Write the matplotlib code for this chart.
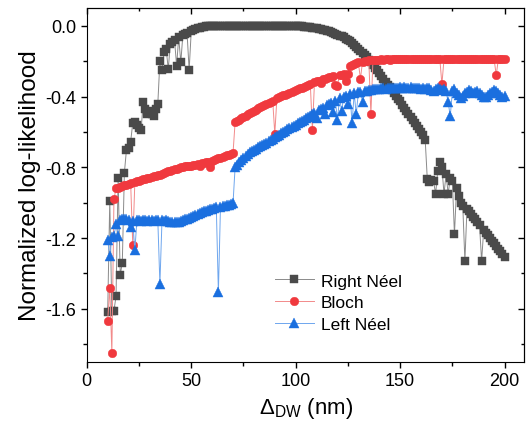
import numpy as np
import matplotlib
matplotlib.use('Agg')
import matplotlib.pyplot as plt
from matplotlib.ticker import MultipleLocator, FormatStrFormatter

plt.rcParams['font.family'] = ['Liberation Sans', 'DejaVu Sans']
plt.rcParams['mathtext.fontset'] = 'custom'
plt.rcParams['mathtext.rm'] = 'Liberation Sans'
plt.rcParams['mathtext.it'] = 'Liberation Sans:italic'

# domain wall width (nm)
dw = list(range(10, 201))

right_neel = [
    -1.62, -0.99, -1.61, -1.61, -1.53, -0.86, -1.41, -1.34, -0.83, -0.70,
    -0.69, -0.655, -0.55, -0.546, -0.56, -0.58, -0.59, -0.43, -0.47, -0.50,
    -0.48, -0.50, -0.51, -0.47, -0.44, -0.20, -0.25, -0.15, -0.13, -0.245,
    -0.10, -0.09, -0.08, -0.226, -0.065, -0.207, -0.05, -0.045, -0.04, -0.25,
    -0.03, -0.025, -0.02, -0.015, -0.01, -0.007, -0.004, -0.002, -0.001, 0.0,
    0.0, 0.0, 0.0, 0.0, 0.0, 0.0, 0.0, 0.0, 0.0, 0.0,
    0.0, 0.0, 0.0, 0.0, 0.0, 0.0, 0.0, 0.0, 0.0, 0.0,
    0.0, 0.0, 0.0, 0.0, 0.0, 0.0, 0.0, 0.0, 0.0, 0.0,
    0.0, 0.0, 0.0, 0.0, 0.0, 0.0, 0.0, 0.0, 0.0, 0.0,
    0.0, -0.001, -0.002, -0.003, -0.004, -0.005, -0.006, -0.008, -0.010, -0.012,
    -0.014, -0.016, -0.019, -0.022, -0.025, -0.028, -0.032, -0.036, -0.040, -0.045,
    -0.050, -0.055, -0.060, -0.066, -0.073, -0.080, -0.088, -0.097, -0.107, -0.118,
    -0.130, -0.142, -0.154, -0.166, -0.178, -0.191, -0.205, -0.220, -0.236, -0.252,
    -0.268, -0.284, -0.300, -0.316, -0.332, -0.348, -0.364, -0.380, -0.396, -0.412,
    -0.428, -0.445, -0.462, -0.479, -0.496, -0.513, -0.530, -0.547, -0.564, -0.581,
    -0.598, -0.615, -0.645, -0.866, -0.885, -0.87, -0.88, -0.95, -0.82, -0.77,
    -0.80, -0.95, -0.84, -0.95, -0.86, -0.876, -1.18, -0.92, -0.96, -1.00,
    -1.02, -1.33, -1.035, -1.05, -1.065, -1.08, -1.095, -1.11, -1.125, -1.33,
    -1.155, -1.17, -1.185, -1.20, -1.215, -1.23, -1.245, -1.26, -1.275, -1.29,
    -1.31]

bloch = [
    -1.67, -1.48, -1.85, -0.98, -0.92, -0.915, -0.91, -0.905, -0.90, -0.898,
    -0.895, -0.89, -1.24, -0.885, -0.88, -0.875, -0.87, -0.868, -0.865, -0.862,
    -0.858, -0.855, -0.852, -0.85, -0.846, -0.842, -0.838, -0.83, -0.826, -0.822,
    -0.82, -0.816, -0.812, -0.808, -0.805, -0.80, -0.798, -0.795, -0.792, -0.79,
    -0.79, -0.788, -0.785, -0.782, -0.79, -0.778, -0.775, -0.772, -0.77, -0.80,
    -0.765, -0.76, -0.755, -0.75, -0.745, -0.74, -0.736, -0.732, -0.728, -0.725,
    -0.72, -0.546, -0.538, -0.530, -0.522, -0.515, -0.508, -0.501, -0.494, -0.487,
    -0.480, -0.474, -0.467, -0.460, -0.454, -0.447, -0.441, -0.435, -0.429, -0.423,
    -0.61, -0.411, -0.405, -0.399, -0.394, -0.389, -0.384, -0.379, -0.374, -0.369,
    -0.364, -0.359, -0.354, -0.349, -0.344, -0.339, -0.334, -0.329, -0.59, -0.319,
    -0.314, -0.310, -0.325, -0.302, -0.298, -0.294, -0.290, -0.287, -0.284, -0.337,
    -0.34, -0.278, -0.276, -0.274, -0.31, -0.27, -0.23, -0.222, -0.216, -0.211,
    -0.207, -0.30, -0.202, -0.199, -0.197, -0.195, -0.50, -0.194, -0.193, -0.191,
    -0.192, -0.190, -0.191, -0.189, -0.190, -0.191, -0.189, -0.190, -0.188, -0.190,
    -0.189, -0.190, -0.188, -0.189, -0.190, -0.188, -0.189, -0.190, -0.188, -0.189,
    -0.190, -0.188, -0.189, -0.188, -0.190, -0.189, -0.188, -0.189, -0.190, -0.188,
    -0.33, -0.189, -0.188, -0.190, -0.189, -0.188, -0.189, -0.190, -0.188, -0.189,
    -0.188, -0.190, -0.189, -0.188, -0.189, -0.190, -0.188, -0.189, -0.188, -0.190,
    -0.189, -0.188, -0.189, -0.190, -0.188, -0.189, -0.28, -0.189, -0.188, -0.189,
    -0.188]

left_neel = [
    -1.21, -1.30, -1.195, -1.19, -1.12, -1.186, -1.10, -1.09, -1.092, -1.09,
    -1.10, -1.14, -1.105, -1.27, -1.10, -1.10, -1.105, -1.10, -1.10, -1.105,
    -1.10, -1.10, -1.105, -1.10, -1.10, -1.46, -1.10, -1.105, -1.10, -1.105,
    -1.11, -1.11, -1.112, -1.11, -1.108, -1.105, -1.10, -1.095, -1.09, -1.085,
    -1.08, -1.075, -1.07, -1.065, -1.06, -1.055, -1.05, -1.046, -1.042, -1.038,
    -1.034, -1.03, -1.027, -1.507, -1.022, -1.02, -1.017, -1.014, -1.011, -1.008,
    -1.004, -0.80, -0.785, -0.772, -0.76, -0.748, -0.737, -0.726, -0.716, -0.709,
    -0.702, -0.695, -0.688, -0.681, -0.674, -0.667, -0.66, -0.653, -0.645, -0.638,
    -0.63, -0.623, -0.615, -0.608, -0.60, -0.593, -0.586, -0.579, -0.572, -0.566,
    -0.559, -0.552, -0.546, -0.538, -0.531, -0.523, -0.516, -0.508, -0.50, -0.493,
    -0.52, -0.478, -0.47, -0.463, -0.50, -0.45, -0.443, -0.437, -0.49, -0.425,
    -0.53, -0.41, -0.48, -0.402, -0.398, -0.44, -0.388, -0.55, -0.382, -0.50,
    -0.376, -0.373, -0.43, -0.368, -0.366, -0.364, -0.362, -0.36, -0.358, -0.356,
    -0.355, -0.354, -0.352, -0.355, -0.351, -0.353, -0.350, -0.352, -0.349, -0.351,
    -0.348, -0.350, -0.347, -0.349, -0.352, -0.348, -0.350, -0.353, -0.349, -0.351,
    -0.356, -0.352, -0.358, -0.350, -0.354, -0.362, -0.368, -0.357, -0.352, -0.360,
    -0.365, -0.358, -0.37, -0.433, -0.51, -0.37, -0.36, -0.38, -0.39, -0.41,
    -0.395, -0.38, -0.372, -0.365, -0.37, -0.378, -0.372, -0.368, -0.38, -0.39,
    -0.40, -0.405, -0.39, -0.38, -0.372, -0.365, -0.37, -0.38, -0.39, -0.40,
    -0.395]

fig = plt.figure(figsize=(5.26, 4.35), dpi=100)
ax = fig.add_axes([0.165, 0.166, 0.832, 0.813])

ax.plot(dw, right_neel, color='#8a8a8a', lw=0.7, marker='s', ms=5.6,
        mfc='#4a4a4a', mec='#4a4a4a', mew=0.3, label='Right Néel')
ax.plot(dw, bloch, color='#f28a8a', lw=0.7, marker='o', ms=6.2,
        mfc='#f0393e', mec='#f0393e', mew=0.3, label='Bloch')
ax.plot(dw, left_neel, color='#6ea6ee', lw=0.7, marker='^', ms=6.6,
        mfc='#1a6fdf', mec='#1a6fdf', mew=0.3, label='Left Néel')

ax.set_xlim(0, 209.5)
ax.set_ylim(-1.9, 0.1)
ax.xaxis.set_major_locator(MultipleLocator(50))
ax.xaxis.set_minor_locator(MultipleLocator(25))
ax.yaxis.set_major_locator(MultipleLocator(0.4))
ax.yaxis.set_minor_locator(MultipleLocator(0.2))
ax.yaxis.set_major_formatter(FormatStrFormatter('%.1f'))
ax.tick_params(which='both', direction='out', labelsize=13, width=1)
ax.tick_params(which='major', length=4)
ax.tick_params(which='minor', length=3)

# inward ticks on top and right
top = ax.secondary_xaxis('top')
top.xaxis.set_major_locator(MultipleLocator(50))
top.xaxis.set_minor_locator(MultipleLocator(25))
top.tick_params(which='both', direction='in', labeltop=False, width=1)
top.tick_params(which='major', length=4.5)
top.tick_params(which='minor', length=2.5)
right = ax.secondary_yaxis('right')
right.yaxis.set_major_locator(MultipleLocator(0.4))
right.yaxis.set_minor_locator(MultipleLocator(0.2))
right.tick_params(which='both', direction='in', labelright=False, width=1)
right.tick_params(which='major', length=4.5)
right.tick_params(which='minor', length=2.5)

ax.set_xlabel('Δ$_{\\mathrm{DW}}$ (nm)', fontsize=16, labelpad=4)
ax.set_ylabel('Normalized log-likelihood', fontsize=17.5, labelpad=3)

ax.legend(loc='upper left', bbox_to_anchor=(0.429, 0.25), frameon=False,
          fontsize=12.5, borderpad=0, borderaxespad=0, handlelength=2.25,
          handletextpad=0.4, labelspacing=0.38)

fig.savefig('out.png', dpi=100)
